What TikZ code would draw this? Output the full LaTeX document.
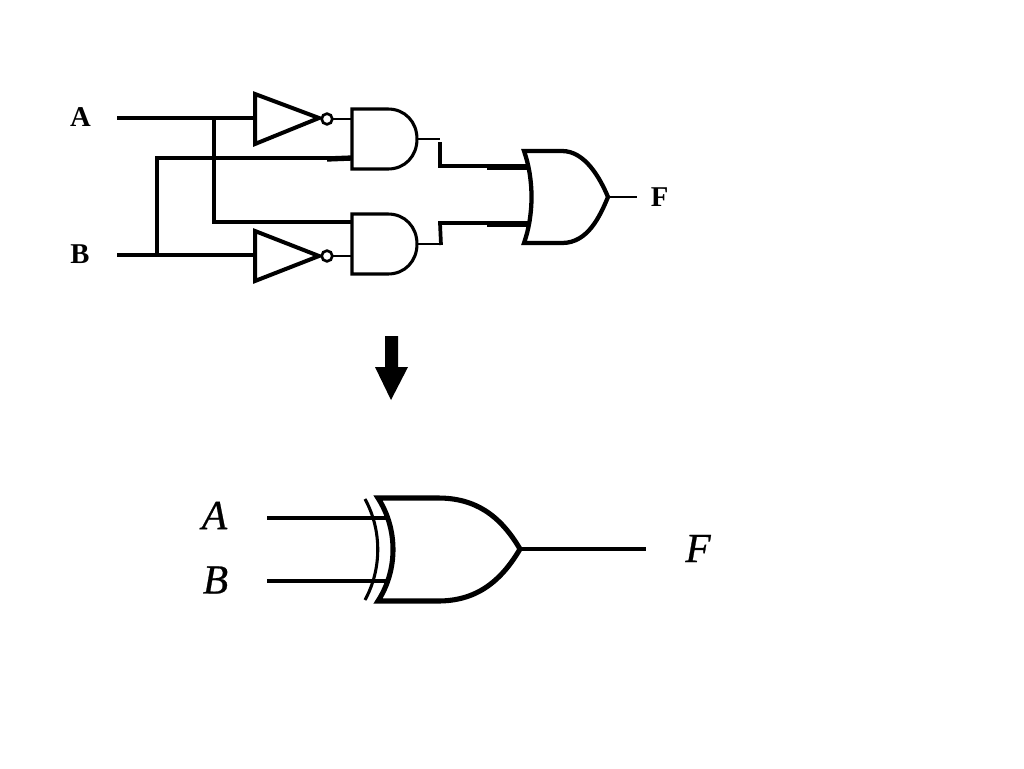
\documentclass[tikz,border=0pt]{standalone}
\usepackage{fontspec}
\setmainfont{Liberation Serif}
\newfontfamily\emboldit[ItalicFeatures={FakeBold=0.6}]{Liberation Serif}
\tikzset{
  x=0.75pt,y=-0.75pt,
  wire/.style={draw=black,line width=2.3pt,line cap=butt},
  heavywire/.style={draw=black,line width=2.8pt,line join=miter},
  thinwire/.style={draw=black,line width=1.5pt},
  outwire/.style={draw=black,line width=2pt},
  fatwire/.style={draw=black,line width=4pt},
  gatebody/.style={draw=black,line width=2.3pt,line join=miter,fill=white},
  invbody/.style={draw=black,line width=3pt,line join=miter,fill=white},
  orbody/.style={draw=black,line width=3.2pt,line join=miter,fill=white},
  xorbody/.style={draw=black,line width=3.8pt,line join=miter},
  bubble/.style={circle,draw=black,line width=2pt,fill=white,minimum size=8pt,inner sep=0pt},
  boldlabel/.style={font=\fontsize{21.5}{24}\selectfont\bfseries,inner sep=0pt,text=black},
  itlabel/.style={font=\fontsize{31}{34}\selectfont\emboldit\itshape,inner sep=0pt,text=black},
}
\begin{document}
\begin{tikzpicture}
\useasboundingbox (0,0) rectangle (1024,768);
% pins
\coordinate (Ain) at (117,118);
\coordinate (Bin) at (117,255);
\coordinate (Aj) at (214,118);
\coordinate (Bj) at (157,255);
\coordinate (inv1in) at (255,118);
\coordinate (inv2in) at (255,255);
\coordinate (and1a) at (352,119);
\coordinate (and1b) at (352,158);
\coordinate (and2a) at (352,222);
\coordinate (and2b) at (352,256);
\coordinate (Bup) at (157,158);
\coordinate (Adown) at (214,222);
\coordinate (and1out) at (417,139);
\coordinate (and2out) at (417,244);
\coordinate (k1a) at (440,139);
\coordinate (k1b) at (440,142);
\coordinate (k1c) at (440,166);
\coordinate (k2a) at (440,244);
\coordinate (k2c) at (440,223);
\coordinate (or1) at (528,166);
\coordinate (or2) at (528,223);
\coordinate (orout) at (608,197);
\coordinate (Fend) at (637,197);
\coordinate (xA0) at (267,518);
\coordinate (xA1) at (387,518);
\coordinate (xB0) at (267,581);
\coordinate (xB1) at (387,581);
\coordinate (xout) at (520,549);
\coordinate (xend) at (646,549);
% wires
\draw[wire] (Ain) -- (inv1in);
\draw[wire] (Bin) -- (inv2in);
\draw[wire] (Aj) -- (Adown) -- (and2a);
\draw[wire] (Bj) -- (Bup) -- (and1b);
\draw[fatwire] (327,159) -- (and1b);
\draw[thinwire] (327,119) -- (and1a);
\draw[thinwire] (327,256) -- (and2b);
\draw[thinwire] (and1out) -- (k1a);
\draw[thinwire] (and2out) -- (k2a);
\draw[heavywire] (k1b) -- (k1c) -- (or1);
\draw[heavywire] (441,245) -- (k2c) -- (or2);
\draw[fatwire] (487,167) -- (530,167);
\draw[fatwire] (487,224) -- (527,224);
\draw[outwire] (orout) -- (Fend);
% inverters
\draw[invbody] (255,94) -- (255,144) -- (319,118) -- cycle;
\draw[invbody] (255,231) -- (255,281) -- (319,256) -- cycle;
\node[bubble] (inv1b) at (327,119) {};
\node[bubble] (inv2b) at (327,256) {};
% AND gates
\draw[gatebody] (352,109) -- (388,109) .. controls (405,109) and (417,122) .. (417,139) .. controls (417,156) and (405,169) .. (388,169) -- (352,169) -- cycle;
\draw[gatebody] (352,214) -- (388,214) .. controls (405,214) and (417,227) .. (417,244) .. controls (417,261) and (405,274) .. (388,274) -- (352,274) -- cycle;
% OR gate
\draw[orbody] (524,151) -- (562,151) .. controls (585,151) and (600,178) .. (608,197) .. controls (600,216) and (588,243) .. (562,243) -- (524,243) .. controls (534,215) and (534,179) .. (524,151) -- cycle;
% arrow
\fill[black] (385,336) -- (398,336) -- (398,367) -- (408,367) -- (391,400) -- (375,367) -- (385,367) -- cycle;
% XOR gate
\draw[wire] (xA0) -- (xA1);
\draw[wire] (xB0) -- (xB1);
\draw[wire] (365,499) .. controls (382,530) and (382,569) .. (365,600);
\draw[xorbody] (378,498) -- (438,498) .. controls (475,498) and (500,515) .. (520,549) .. controls (500,583) and (475,601) .. (438,601) -- (378,601) .. controls (398,570) and (398,529) .. (378,498) -- cycle;
\draw[wire] (xout) -- (xend);
% labels
\node[boldlabel] (la) at (80.5,117.5) {A};
\node[boldlabel] (lb) at (80,254.5) {B};
\node[boldlabel] (lf) at (659.5,197.5) {F};
\node[itlabel] (xa) at (214.5,515.5) {A};
\node[itlabel] (xb) at (215.5,580) {B};
\node[itlabel] (xf) at (698,548.5) {F};
\end{tikzpicture}
\end{document}
